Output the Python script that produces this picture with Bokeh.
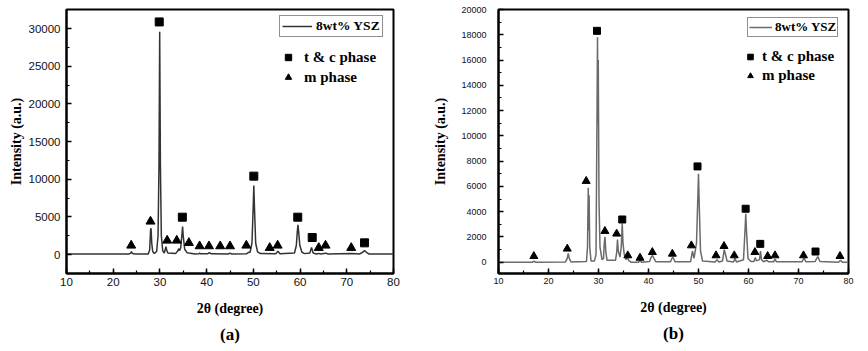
from bokeh.plotting import figure
from bokeh.layouts import row
from bokeh.models import Range1d, SingleIntervalTicker, Legend, LegendItem, Title
from bokeh.embed import file_html
from bokeh.resources import INLINE

# ---------------- Panel (a) data ----------------
a_theta = [10.0, 23.3, 23.7, 23.9, 24.1, 24.5, 27.5, 27.8, 28.0, 28.1, 28.25, 28.45, 28.8,
           29.3, 29.6, 29.8, 29.95, 30.1, 30.3, 30.6, 30.95, 31.15, 31.3, 31.45, 31.7,
           33.4, 33.85, 34.0, 34.2, 34.45, 34.7, 34.85, 35.0, 35.3, 35.8, 36.2, 37.5,
           38.3, 38.5, 38.7, 40.2, 40.6, 41.0, 44.7, 45.0, 45.3, 48.5, 49.0, 49.3,
           49.7, 49.95, 50.1, 50.25, 50.5, 50.9, 51.5, 54.8, 55.25, 55.7, 58.8, 59.2,
           59.4, 59.55, 59.7, 59.95, 60.4, 61.0, 62.1, 62.45, 62.8, 63.5, 64.0, 64.4,
           65.5, 66.0, 71.0, 72.8, 73.4, 73.8, 74.2, 74.8, 80.0]
a_int = [60, 60, 150, 380, 150, 60, 80, 600, 3300, 3500, 1500, 400, 150,
         400, 2500, 12000, 29600, 12000, 2500, 500, 200, 700, 1050, 600, 200,
         150, 500, 780, 500, 900, 2600, 3700, 2400, 700, 250, 200, 80,
         100, 180, 100, 100, 250, 100, 80, 200, 80, 100, 300, 300,
         1500, 6000, 9150, 6000, 1500, 350, 120, 100, 420, 100, 200, 1200,
         3000, 3950, 3000, 1200, 300, 120, 200, 950, 200, 80, 150, 80,
         180, 60, 120, 80, 300, 520, 300, 60, 60]
a_tc_theta = [29.85, 34.8, 50.1, 59.5, 62.6, 73.8]
a_tc_int = [30890, 4960, 10410, 4960, 2260, 1550]
a_m_theta = [23.85, 27.98, 31.55, 33.6, 36.2, 38.5, 40.5, 42.9, 45.0, 48.5, 53.5, 55.2, 64.0, 65.45, 70.95]
a_m_int = [1200, 4390, 1860, 1860, 1550, 1110, 1110, 1110, 1110, 1200, 890, 1200, 890, 1200, 890]

# ---------------- Panel (b) data ----------------
b_theta = [10.0, 16.8, 17.1, 17.4, 23.4, 23.75, 23.95, 24.15, 24.5, 27.6, 27.8, 27.95, 28.05,
           28.12, 28.25, 28.5, 29.2, 29.5, 29.7, 29.8, 29.88, 29.95, 30.1, 30.3, 30.7,
           31.0, 31.15, 31.3, 31.45, 31.7, 33.4, 33.65, 33.8, 33.95, 34.3, 34.55, 34.75,
           34.9, 35.15, 35.5, 35.75, 36.0, 36.5, 38.0, 38.3, 38.6, 40.2, 40.6, 40.8,
           41.1, 41.5, 44.4, 44.75, 44.95, 45.3, 48.4, 48.8, 49.1, 49.6, 49.9, 50.0,
           50.15, 50.4, 50.8, 53.3, 53.7, 54.1, 54.8, 55.15, 55.35, 55.7, 57.0, 57.3,
           57.6, 59.0, 59.3, 59.45, 59.6, 59.9, 60.5, 61.1, 61.35, 61.6, 62.2, 62.4,
           62.6, 63.0, 63.7, 64.0, 65.0, 65.3, 65.6, 70.7, 71.1, 71.5, 73.3, 73.85,
           74.3, 78.0, 78.4, 78.8, 80.0]
b_int = [0, 0, 80, 0, 20, 300, 700, 300, 20, 50, 1200, 5900, 2500,
         5300, 1200, 100, 100, 600, 11500, 17800, 11000, 16000, 4800, 1200, 200,
         300, 1500, 2000, 900, 150, 150, 800, 1800, 900, 400, 1200, 3050,
         1500, 600, 200, 400, 150, 0, 0, 150, 0, 50, 450, 530,
         300, 30, 30, 350, 350, 30, 30, 880, 300, 1500, 5600, 7000,
         4500, 900, 100, 20, 200, 20, 100, 1000, 700, 100, 20, 300,
         20, 200, 2500, 3830, 2500, 300, 50, 50, 380, 100, 200, 870,
         200, 30, 150, 30, 30, 250, 30, 30, 330, 30, 50, 450,
         50, 0, 150, 0, 0]
b_tc_theta = [29.7, 34.75, 49.8, 59.43, 62.35, 73.4]
b_tc_int = [18310, 3380, 7580, 4230, 1450, 845]
b_m_theta = [17.07, 23.75, 27.54, 31.28, 33.63, 35.86, 38.3, 40.77, 44.77, 48.57, 53.5,
             55.1, 57.15, 61.28, 63.83, 65.3, 71.0, 78.3]
b_m_int = [475, 1060, 6420, 2460, 2250, 530, 340, 790, 660, 1320, 530,
           1270, 530, 790, 475, 530, 530, 475]

x_ticks_interval = 10
SERIF = "Liberation Serif"
SANS = "Liberation Sans"


def make_panel(width, theta, inten, tc_t, tc_i, m_t, m_i, y_start, y_end, y_interval,
               borders, tick_size, line_color, marker_size, caption,
               y_lab_standoff, ylabel_standoff, xlabel_standoff, leg1_loc, leg1_dims,
               leg2_loc, leg2_dims, cap_standoff):
    p = figure(width=width, height=351, output_backend="svg", toolbar_location=None,
               x_range=Range1d(10, 80), y_range=Range1d(y_start, y_end),
               min_border_left=borders[0], min_border_right=borders[1],
               min_border_top=borders[2], min_border_bottom=borders[3])
    p.background_fill_color = "white"
    p.border_fill_color = "white"
    p.outline_line_color = "black"
    p.outline_line_width = 2
    p.xgrid.visible = False
    p.ygrid.visible = False

    p.xaxis.ticker = SingleIntervalTicker(interval=x_ticks_interval, num_minor_ticks=2)
    p.yaxis.ticker = SingleIntervalTicker(interval=y_interval, num_minor_ticks=2)
    for ax in (p.xaxis[0], p.yaxis[0]):
        ax.axis_line_color = "black"
        ax.axis_line_width = 2
        ax.major_tick_in = 5
        ax.major_tick_out = 0
        ax.minor_tick_in = 3
        ax.minor_tick_out = 0
        ax.major_tick_line_width = 1.5
        ax.minor_tick_line_width = 1.2
        ax.major_tick_line_color = "black"
        ax.minor_tick_line_color = "black"
        ax.major_label_text_font = SANS
        ax.major_label_text_font_size = tick_size
        ax.major_label_text_color = "#111111"
        ax.axis_label_text_font = SERIF
        ax.axis_label_text_font_style = "bold"
        ax.axis_label_text_font_size = "14px"
        ax.axis_label_text_color = "black"
    p.xaxis.axis_label = "2θ (degree)"
    p.yaxis.axis_label = "Intensity (a.u.)"
    p.xaxis.major_label_standoff = 4
    p.xaxis.axis_label_standoff = xlabel_standoff
    p.yaxis.major_label_standoff = y_lab_standoff
    p.yaxis.axis_label_standoff = ylabel_standoff

    r_line = p.line(theta, inten, line_color=line_color, line_width=1.5)
    r_sq = p.scatter(tc_t, tc_i, marker="square", size=marker_size,
                     fill_color="black", line_color="black")
    r_tri = p.scatter(m_t, m_i, marker="triangle", size=marker_size + 1,
                      fill_color="black", line_color="black")

    leg1 = Legend(items=[LegendItem(label="8wt% YSZ", renderers=[r_line])],
                  location=leg1_loc, margin=0, padding=leg1_dims[0],
                  glyph_width=leg1_dims[1], glyph_height=12, label_height=12,
                  label_standoff=leg1_dims[2], spacing=0,
                  border_line_color="#222222", border_line_width=1.2,
                  background_fill_color="white", background_fill_alpha=1.0,
                  label_text_font=SERIF, label_text_font_style="bold",
                  label_text_font_size=leg1_dims[3], label_text_color="black")
    leg2 = Legend(items=[LegendItem(label="t & c phase", renderers=[r_sq]),
                         LegendItem(label="m phase", renderers=[r_tri])],
                  location=leg2_loc, margin=0, padding=0,
                  glyph_width=leg2_dims[0], glyph_height=leg2_dims[1],
                  label_height=leg2_dims[1], label_standoff=leg2_dims[2], spacing=0,
                  border_line_color=None, background_fill_alpha=0.0,
                  label_text_font=SERIF, label_text_font_style="bold",
                  label_text_font_size="15px", label_text_color="black")
    p.add_layout(leg1)
    p.add_layout(leg2)

    cap = Title(text=caption, align="center", text_font=SERIF, text_font_style="bold",
                text_font_size="17px", text_color="black", standoff=cap_standoff)
    p.add_layout(cap, "below")
    return p


pa = make_panel(430, a_theta, a_int, a_tc_theta, a_tc_int, a_m_theta, a_m_int,
                -2520, 32540, 5000, (66, 37, 9, 78), "11.5px", "#333333", 8, "(a)",
                6, 2, 12, (213, 236), (2, 30, 4, "13.5px"), (214, 186), (16, 20, 8), 9)
pb = make_panel(438, b_theta, b_int, b_tc_theta, b_tc_int, b_m_theta, b_m_int,
                -895, 20000, 2000, (62, 20, 9, 78), "9px", "#6a6a6a", 7, "(b)",
                12, 10, 13, (249, 236), (1, 23, 3, "13px"), (245, 188), (14, 19, 5), 9)

layout = row(pa, pb)
open("out.html", "w").write(file_html(layout, INLINE))
